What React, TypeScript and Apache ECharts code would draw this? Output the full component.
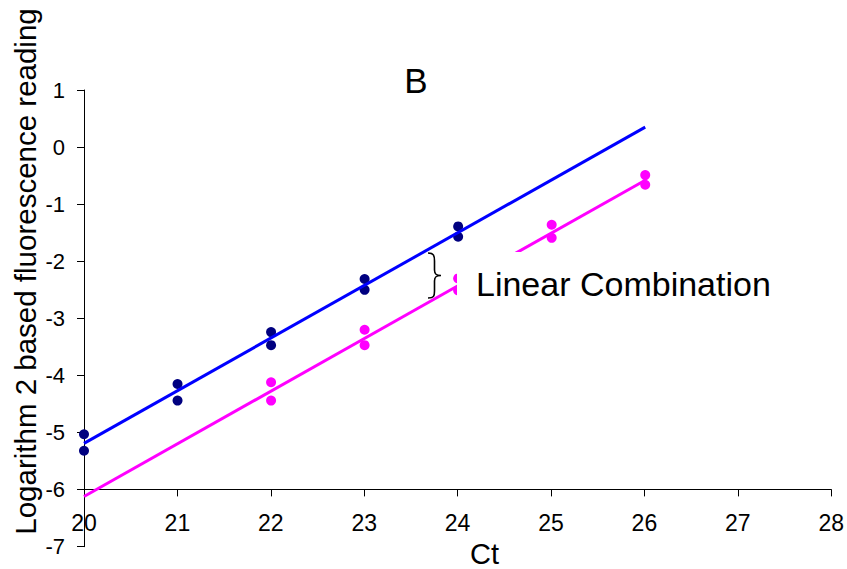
import React, { useEffect, useRef } from "react";
import * as echarts from "echarts";

// Ct values and log2 fluorescence readings
const blueCt = [20, 20, 21, 21, 22, 22, 23, 23, 24, 24];
const blueVals = [-5.03, -5.32, -4.15, -4.44, -3.24, -3.47, -2.31, -2.5, -1.39, -1.57];
const pinkCt = [22, 22, 23, 23, 24, 24, 25, 25, 26, 26];
const pinkVals = [-4.12, -4.44, -3.2, -3.47, -2.3, -2.51, -1.36, -1.59, -0.49, -0.66];
// trend line end points
const fitCt = [20, 26];
const blueFit = [-5.19, 0.35];
const pinkFit = [-6.12, -0.58];

const FONT = "'Liberation Sans', Arial, sans-serif";

const BRACE =
  "M428,253 C434,253 434.5,256 434.5,261 L434.5,270 C434.5,274 436,275.5 441,275.5 C436,275.5 434.5,277 434.5,281 L434.5,291 C434.5,296 434,298 428,298";

let registered = false;

export default function App() {
  const ref = useRef<HTMLDivElement>(null);
  useEffect(() => {
    if (!ref.current) return;
    if (!registered) {
      echarts.graphic.registerShape("brace", echarts.graphic.extendPath(BRACE, {}));
      registered = true;
    }
    const chart = echarts.init(ref.current, undefined, { renderer: "svg" });
    const pairs = (xs: number[], ys: number[]) => xs.map((x, i) => [x, ys[i]]);
    chart.setOption({
      animation: false,
      backgroundColor: "#ffffff",
      textStyle: { fontFamily: FONT },
      grid: [
        { left: 84, top: 90, right: 14.7, bottom: 22.3 },
        { left: 84, top: 90, right: 14.7, bottom: 79.6 },
      ],
      xAxis: [
        { gridIndex: 0, type: "value", min: 20, max: 28, interval: 1, show: false },
        {
          gridIndex: 1,
          type: "value",
          min: 20,
          max: 28,
          interval: 1,
          position: "bottom",
          axisLine: { show: true, onZero: false, lineStyle: { color: "#000", width: 1 } },
          axisTick: { show: true, inside: false, length: 7, lineStyle: { color: "#000" } },
          axisLabel: { color: "#000", fontSize: 23, margin: 22, fontFamily: FONT },
          splitLine: { show: false },
        },
      ],
      yAxis: [
        {
          gridIndex: 0,
          type: "value",
          min: -7,
          max: 1,
          interval: 1,
          axisLine: { show: true, onZero: false, lineStyle: { color: "#000", width: 1 } },
          axisTick: { show: true, inside: false, length: 7, lineStyle: { color: "#000" } },
          axisLabel: { color: "#000", fontSize: 22, margin: 19, fontFamily: FONT },
          splitLine: { show: false },
        },
        { gridIndex: 1, type: "value", min: -6, max: 1, show: false },
      ],
      series: [
        {
          type: "line",
          xAxisIndex: 0,
          yAxisIndex: 0,
          data: pairs(fitCt, blueFit),
          showSymbol: false,
          lineStyle: { color: "#0000ff", width: 3 },
          clip: false,
        },
        {
          type: "line",
          xAxisIndex: 0,
          yAxisIndex: 0,
          data: pairs(fitCt, pinkFit),
          showSymbol: false,
          lineStyle: { color: "#ff00ff", width: 3 },
          clip: false,
        },
        {
          type: "scatter",
          xAxisIndex: 0,
          yAxisIndex: 0,
          data: pairs(blueCt, blueVals),
          symbolSize: 10,
          itemStyle: { color: "#000080", opacity: 1 },
        },
        {
          type: "scatter",
          xAxisIndex: 0,
          yAxisIndex: 0,
          data: pairs(pinkCt, pinkVals),
          symbolSize: 10,
          itemStyle: { color: "#ff00ff", opacity: 1 },
        },
      ],
      graphic: [
        {
          type: "rect",
          z: 100,
          shape: { x: 457, y: 252, width: 330, height: 66 },
          style: { fill: "#ffffff" },
        },
        {
          type: "brace",
          z: 101,
          x: 0,
          y: 0,
          style: { fill: "none", stroke: "#000", lineWidth: 1.6 },
        },
        {
          type: "text",
          z: 101,
          x: 476,
          y: 284,
          style: {
            text: "Linear Combination",
            fontSize: 34,
            fontFamily: FONT,
            fill: "#000",
            align: "left",
            verticalAlign: "middle",
          },
        },
        {
          type: "text",
          z: 101,
          x: 416,
          y: 80,
          style: {
            text: "B",
            fontSize: 35,
            fontFamily: FONT,
            fill: "#000",
            align: "center",
            verticalAlign: "middle",
          },
        },
        {
          type: "text",
          z: 101,
          x: 484.5,
          y: 554,
          style: {
            text: "Ct",
            fontSize: 29,
            fontFamily: FONT,
            fill: "#000",
            align: "center",
            verticalAlign: "middle",
          },
        },
        {
          type: "text",
          z: 101,
          x: 25,
          y: 271.5,
          rotation: Math.PI / 2,
          style: {
            text: "Logarithm 2 based fluorescence reading",
            fontSize: 29.5,
            fontFamily: FONT,
            fill: "#000",
            align: "center",
            verticalAlign: "middle",
          },
        },
      ],
    });
    return () => chart.dispose();
  }, []);
  return (
    <div
      ref={ref}
      style={{ position: "fixed", left: 0, top: 0, width: 847, height: 569 }}
    />
  );
}
